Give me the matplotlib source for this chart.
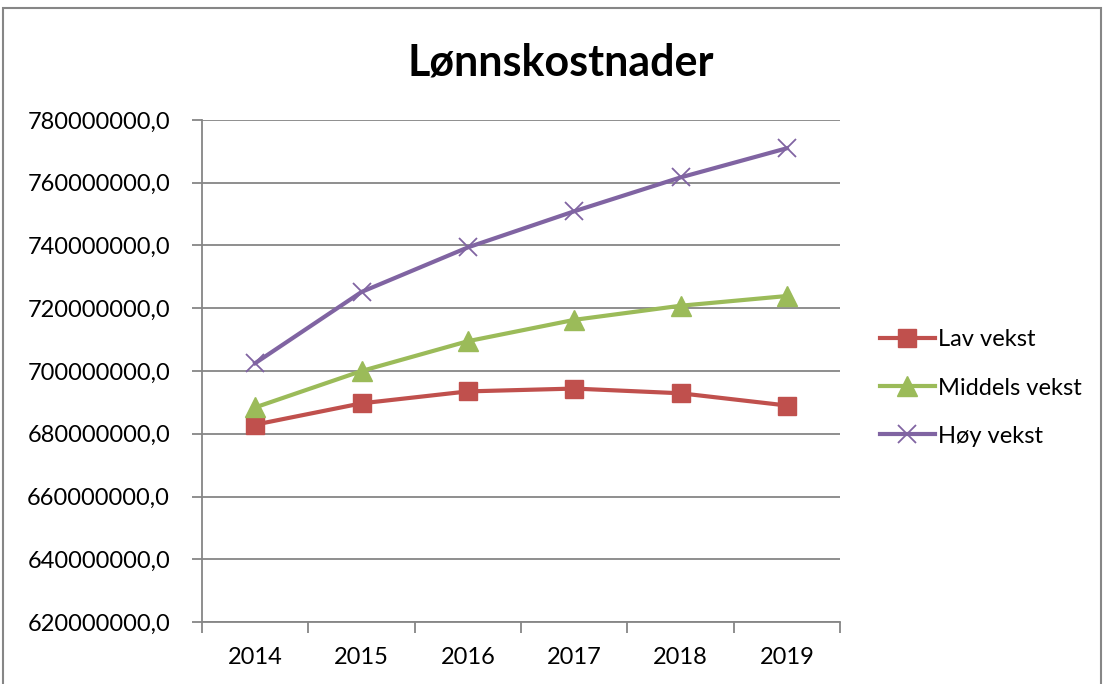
import matplotlib.pyplot as plt
import numpy as np
from matplotlib.patches import Rectangle
from matplotlib.ticker import FuncFormatter

years = ["2014", "2015", "2016", "2017", "2018", "2019"]
lav = [682.9, 689.7, 693.5, 694.4, 692.9, 689.0]
middels = [688.4, 700.0, 709.5, 716.3, 720.8, 723.9]
hoy = [702.5, 725.2, 739.4, 750.9, 761.7, 771.0]
series_names = ["Lav vekst", "Middels vekst", "Høy vekst"]

plt.rcParams["font.family"] = ["Lato", "DejaVu Sans"]

fig = plt.figure(figsize=(11.04, 6.84), dpi=100)
ax = fig.add_axes([0.183, 0.0906, 0.578, 0.7340])

x = np.arange(len(years))
scale = 1e6
ax.plot(x, np.array(lav) * scale, color="#C0504D", lw=3.0, marker="s", ms=13,
        label=series_names[0])
ax.plot(x, np.array(middels) * scale, color="#9BBB59", lw=3.0, marker="^", ms=14,
        label=series_names[1])
ax.plot(x, np.array(hoy) * scale, color="#8064A2", lw=3.0, marker="x", ms=13,
        mew=1.3, label=series_names[2])

ax.set_ylim(620e6, 780e6)
ax.set_yticks(np.arange(620e6, 780e6 + 1, 20e6))
ax.yaxis.set_major_formatter(FuncFormatter(lambda v, p: f"{v:.1f}".replace(".", ",")))
ax.grid(axis="y", color="#868686", lw=1.3)
ax.set_axisbelow(True)

ax.set_xlim(-0.5, len(years) - 0.5)
ax.set_xticks(x)
ax.set_xticklabels(years)
ax.set_xticks(np.arange(-0.5, len(years)), minor=True)
ax.tick_params(axis="x", which="major", length=0, pad=18)
ax.tick_params(axis="x", which="minor", length=8, color="#868686", width=1.3)
ax.tick_params(axis="y", length=7, color="#868686", width=1.3, pad=16)
ax.tick_params(labelsize=17)

for s in ["top", "right"]:
    ax.spines[s].set_visible(False)
for s in ["left", "bottom"]:
    ax.spines[s].set_color("#868686")
    ax.spines[s].set_linewidth(1.3)

fig.text(0.508, 0.909, "Lønnskostnader", fontsize=31, fontweight="bold",
         ha="center", va="center")

ax.legend(loc="center left", bbox_to_anchor=(1.063, 0.466), frameon=False,
          fontsize=17, handlelength=2.3, handletextpad=0.15, labelspacing=1.15,
          borderaxespad=0, borderpad=0)

fig.patches.append(Rectangle((0.003, -0.05), 0.994, 1.038, transform=fig.transFigure,
                             fill=False, edgecolor="#868686", lw=1.5))

fig.savefig("out.png", dpi=100)
